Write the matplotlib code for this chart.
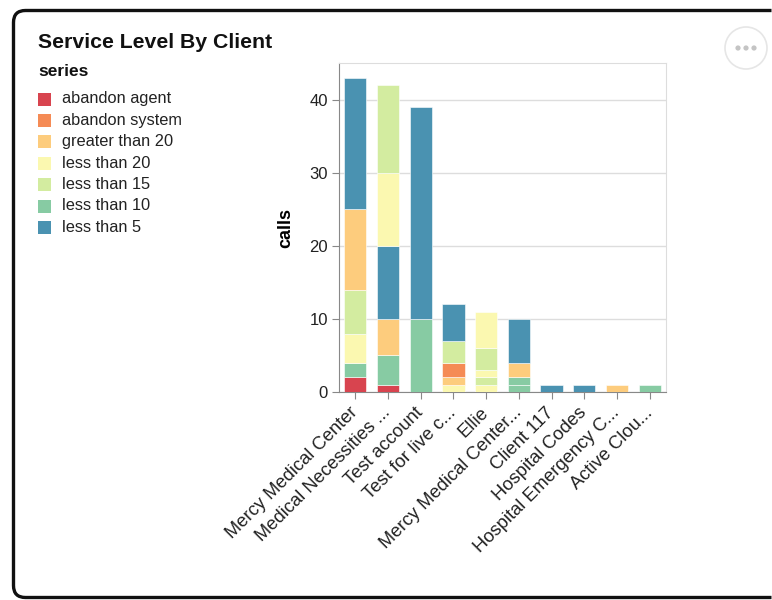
import numpy as np
import matplotlib.pyplot as plt
from matplotlib.patches import Rectangle, Circle, PathPatch
from matplotlib.path import Path

plt.rcParams['font.family'] = ['Liberation Sans', 'DejaVu Sans']

# data
clients = ['Mercy Medical Center', 'Medical Necessities ...', 'Test account',
           'Test for live c...', 'Ellie', 'Mercy Medical Center...',
           'Client 117', 'Hospital Codes', 'Hospital Emergency C...',
           'Active Clou...']
series = ['abandon agent', 'abandon system', 'greater than 20',
          'less than 20', 'less than 15', 'less than 10', 'less than 5']
colors = ['#d8444f', '#f58b55', '#fdcc7d', '#fbf8b0', '#d3eca0',
          '#87cba3', '#4a92b1']

# rows in stacking order (client index, series, calls)
seg_client = [0, 0, 0, 0, 0, 0,
              1, 1, 1, 1, 1, 1,
              2, 2,
              3, 3, 3, 3, 3,
              4, 4, 4, 4, 4,
              5, 5, 5, 5,
              6, 7, 8, 9]
seg_series = ['abandon agent', 'less than 10', 'less than 20', 'less than 15',
              'greater than 20', 'less than 5',
              'abandon agent', 'less than 10', 'greater than 20',
              'less than 5', 'less than 20', 'less than 15',
              'less than 10', 'less than 5',
              'less than 20', 'greater than 20', 'abandon system',
              'less than 15', 'less than 5',
              'less than 20', 'less than 15', 'less than 20', 'less than 15',
              'less than 20',
              'less than 10', 'less than 10', 'greater than 20', 'less than 5',
              'less than 5', 'less than 5', 'greater than 20', 'less than 10']
seg_calls = [2, 2, 4, 6, 11, 18,
             1, 4, 5, 10, 10, 12,
             10, 29,
             1, 1, 2, 3, 5,
             1, 1, 1, 3, 5,
             1, 1, 2, 6,
             1, 1, 1, 1]

W, H = 772, 600
fig = plt.figure(figsize=(W / 100, H / 100), dpi=100)

# background card in pixel coordinates (open on the right side)
bg = fig.add_axes([0, 0, 1, 1])
bg.set_xlim(0, W)
bg.set_ylim(H, 0)
bg.axis('off')
left, top, bottom, r = 13.5, 10.5, 597.5, 12
right_end = W - 0.5
verts = [(right_end, top), (left + r, top), (left, top), (left, top + r),
         (left, bottom - r), (left, bottom), (left + r, bottom),
         (right_end, bottom)]
codes = [Path.MOVETO, Path.LINETO, Path.CURVE3, Path.CURVE3,
         Path.LINETO, Path.CURVE3, Path.CURVE3, Path.LINETO]
bg.add_patch(PathPatch(Path(verts, codes), fill=False, edgecolor='#111111',
                       linewidth=2.4, capstyle='butt'))
bg.add_patch(Circle((746, 48), 21, facecolor='white', edgecolor='#e6e6e6',
                    linewidth=1.2))
for dx in (-8, 0, 8):
    bg.add_patch(Circle((746 + dx, 48), 2.6, color='#c4c4c4', linewidth=0))

bg.text(38, 43, 'Service Level By Client', fontsize=15.3, fontweight='bold',
        va='center', ha='left', color='#111111')
bg.text(38, 72, 'series', fontsize=12.5, fontweight='bold', va='center',
        ha='left', color='#111111')
for i, (name, c) in enumerate(zip(series, colors)):
    yc = 99 + i * 21.4
    bg.add_patch(Rectangle((38, yc - 6.5), 13, 13, facecolor=c,
                           edgecolor='none'))
    bg.text(62, yc, name, fontsize=11.8, va='center', ha='left',
            color='#222222')

# chart
ax = fig.add_axes([339 / W, 1 - 392 / H, (666 - 339) / W, (392 - 63) / H])
color_of = dict(zip(series, colors))
x = np.arange(len(clients))
bottoms = np.zeros(len(clients))
for ci, s, v in zip(seg_client, seg_series, seg_calls):
    ax.bar(x[ci], v, bottom=bottoms[ci], width=0.68, color=color_of[s],
           edgecolor='white', linewidth=0.4, zorder=3)
    bottoms[ci] += v

ax.set_xlim(-0.5, len(clients) - 0.5)
ax.set_ylim(0, 45)
ax.set_yticks([0, 10, 20, 30, 40])
ax.yaxis.grid(True, color='#dddddd', linewidth=1, zorder=0)
ax.set_xticks(x)
ax.set_xticklabels(clients, rotation=45, ha='right', va='center',
                   rotation_mode='anchor', fontsize=13.2, color='#222222')
ax.tick_params(axis='y', labelsize=12, colors='#222222', length=5,
               color='#888888', pad=3)
ax.tick_params(axis='x', length=5, color='#888888', pad=8)
for side in ('top', 'right'):
    ax.spines[side].set_color('#dddddd')
for side in ('left', 'bottom'):
    ax.spines[side].set_color('#888888')
ax.set_ylabel('calls', fontsize=13, fontweight='bold')
ax.yaxis.set_label_coords(-0.138, 0.5)

fig.savefig('out.png', dpi=100)
